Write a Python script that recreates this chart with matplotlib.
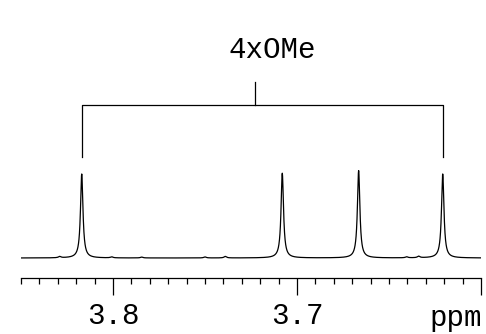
"""1H NMR excerpt: the four methoxy singlets (4xOMe) near 3.6-3.85 ppm."""

import matplotlib
matplotlib.use("Agg")
import matplotlib.pyplot as plt
import numpy as np

# peaks (ppm, relative height, half width at half max in ppm)
peak_ppm = [3.817, 3.708, 3.6665, 3.6208]
peak_height = [1.00, 1.01, 1.04, 1.00]
peak_hwhm = [0.0008, 0.0008, 0.0008, 0.0008]

# tiny impurity bumps along the baseline
bump_ppm = [3.829, 3.8007, 3.7844, 3.750, 3.739, 3.6404, 3.6339]
bump_height = [0.015, 0.012, 0.010, 0.012, 0.018, 0.012, 0.018]

major_ticks = [3.8, 3.7, 3.6]
major_labels = ["3.8", "3.7", ""]
bracket_label = "4xOMe"


def lorentz(x, x0, h, w):
    return h * w ** 2 / (w ** 2 + (x - x0) ** 2)


plt.rcParams["font.family"] = ["Liberation Mono", "DejaVu Sans Mono"]

ppm = np.linspace(3.85, 3.60, 4000)
intensity = np.zeros_like(ppm)
for x0, h, w in zip(peak_ppm, peak_height, peak_hwhm):
    intensity += lorentz(ppm, x0, h, w)
for x0, h in zip(bump_ppm, bump_height):
    intensity += lorentz(ppm, x0, h, 0.0008)

fig = plt.figure(figsize=(4.86, 3.34), dpi=100)
# axes spans from the ppm axis line up to the top of the figure
ax = fig.add_axes([21 / 486, 56 / 334, 460 / 486, 278 / 334])
scale = 84.0  # pixels per unit intensity
ax.set_ylim(-20 / scale, 258 / scale)
ax.set_xlim(3.85, 3.60)

ax.plot(ppm, intensity, color="black", lw=0.9)

# bracket over the four singlets
leg_bot, bar_y, stem_top = 101 / scale, 153 / scale, 176 / scale
left, right = peak_ppm[0], peak_ppm[-1]
ax.plot([left, left, right, right], [leg_bot, bar_y, bar_y, leg_bot],
        color="black", lw=0.9)
ax.plot([3.7228, 3.7228], [bar_y, stem_top], color="black", lw=0.9)
ax.text(3.7133, 200 / scale, bracket_label, ha="center", va="baseline",
        fontsize=21)

for side in ("top", "left", "right"):
    ax.spines[side].set_visible(False)
ax.spines["bottom"].set_linewidth(0.9)
ax.set_yticks([])
ax.set_xticks(major_ticks)
ax.set_xticklabels(major_labels)
ax.set_xticks(np.arange(3.60, 3.8501, 0.01), minor=True)
ax.tick_params(axis="x", which="major", direction="out", length=12,
               width=0.9, labelsize=21, pad=5)
ax.tick_params(axis="x", which="minor", direction="out", length=4, width=0.9)
fig.text(482 / 486, 8 / 334, "ppm", ha="right", va="baseline", fontsize=21)

fig.savefig("out.png", dpi=100)
